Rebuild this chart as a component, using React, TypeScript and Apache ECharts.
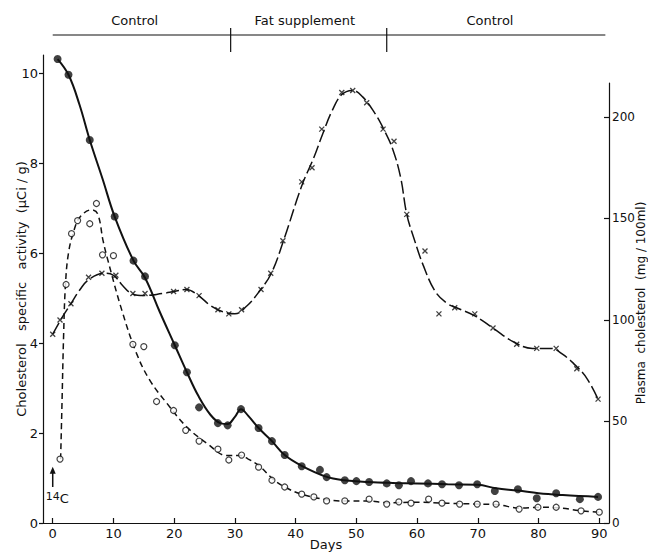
import React, { useEffect, useRef } from "react";
import * as echarts from "echarts";

// ---- data ----
const filledDays = [0.8, 2.6, 6.1, 10.2, 13.3, 15.2, 20.1, 22.1, 24.1, 27.2, 28.8, 31, 33.9, 36.1, 38.2, 41, 44, 45.1, 48.1, 50, 52.1, 55, 57, 59, 61.8, 64.1, 66.9, 69.9, 72.8, 76.6, 79.7, 82.9, 86.8, 89.8];
const filledActivity = [10.31, 9.96, 8.51, 6.81, 5.83, 5.48, 3.95, 3.35, 2.57, 2.22, 2.17, 2.53, 2.11, 1.82, 1.51, 1.26, 1.18, 1.02, 0.95, 0.93, 0.91, 0.88, 0.84, 0.93, 0.88, 0.86, 0.84, 0.86, 0.71, 0.75, 0.55, 0.66, 0.53, 0.58];

const openDays = [1.2, 2.2, 3.1, 4.1, 6.1, 7.2, 8.2, 10, 13.2, 15, 17.1, 19.9, 21.9, 24.1, 27.2, 29, 31.1, 33.9, 36.1, 38.2, 41, 43, 45.1, 48.1, 52.1, 55, 57, 59, 61.9, 64.1, 67, 69.9, 73, 76.8, 79.9, 82.9, 87, 90];
const openActivity = [1.42, 5.3, 6.43, 6.72, 6.65, 7.1, 5.96, 5.94, 3.97, 3.92, 2.7, 2.5, 2.06, 1.82, 1.64, 1.4, 1.51, 1.24, 0.95, 0.8, 0.64, 0.58, 0.49, 0.49, 0.53, 0.42, 0.47, 0.44, 0.53, 0.44, 0.42, 0.42, 0.42, 0.31, 0.35, 0.35, 0.27, 0.24];

const plasmaDays = [0, 1.2, 3, 5.9, 8.1, 10.4, 13.2, 15.2, 19.9, 22.1, 24.1, 27.2, 29, 31.1, 34.3, 35.9, 37.9, 41, 42.7, 44.3, 47.6, 49.4, 51.7, 54.4, 56.2, 58.3, 61.3, 63.6, 66.2, 69.5, 72.5, 76.4, 79.7, 82.9, 86.3, 89.8];
const plasmaChol = [93, 100, 108, 121, 123, 122, 113, 113, 114, 115, 112, 105, 103, 105, 115, 123, 139, 168, 175, 194, 212, 213, 207, 194, 188, 152, 134, 103, 106, 103, 96, 88, 86, 86, 76, 61];

// hand-drawn fitted curves (day, value)
const solidCurve = [[0.8, 10.31], [2.6, 9.96], [4.4, 9.3], [6.1, 8.51], [8.2, 7.65], [10.2, 6.81], [13.3, 5.83], [15.2, 5.45], [17.6, 4.7], [20.1, 3.95], [22.1, 3.35], [24, 2.82], [26, 2.4], [27.6, 2.22], [28.8, 2.2], [30, 2.36], [31, 2.53], [32.2, 2.38], [33.9, 2.11], [36.1, 1.82], [38.2, 1.51], [41, 1.27], [45, 1.03], [48, 0.95], [52, 0.91], [56, 0.89], [60, 0.88], [65, 0.86], [70, 0.85], [73, 0.77], [76.6, 0.72], [80, 0.66], [84, 0.62], [89.8, 0.58]];
const dashedCurve = [[1.3, 1.42], [1.5, 2.5], [1.8, 4.2], [2.1, 5.3], [2.6, 6.0], [3.5, 6.5], [4.5, 6.8], [6.4, 6.96], [7.4, 6.87], [8.3, 6.27], [9.1, 5.83], [11.4, 4.72], [13.8, 3.77], [16, 3.17], [18.8, 2.66], [22.1, 2.13], [25.4, 1.77], [28.7, 1.5], [30.8, 1.5], [32.2, 1.42], [34.1, 1.26], [36.3, 0.97], [38.2, 0.8], [41, 0.64], [45, 0.52], [48, 0.49], [52, 0.49], [55, 0.45], [60, 0.46], [65, 0.44], [70, 0.42], [73, 0.41], [77, 0.33], [80, 0.35], [83, 0.34], [87, 0.27], [90, 0.24]];
const plasmaCurve = [[0, 93], [1.5, 101], [3, 108], [4.5, 115], [6, 120], [8.5, 123], [10, 122], [11.5, 117], [13, 113], [15, 112], [18, 113], [20, 114], [22, 115], [24, 112], [26, 107], [28, 104], [30, 103], [32, 107], [34, 114], [36, 123], [38, 139], [41, 166], [43, 180], [44.5, 192], [46, 203], [47.6, 211], [49.4, 213], [51, 210], [53, 202], [54.5, 194], [56, 184], [57.3, 170], [58.3, 152], [59.5, 140], [61, 127], [63, 114], [65, 108], [66.5, 106], [69.5, 102], [72.5, 96], [76, 89], [79, 86], [82, 86], [84, 83], [86.3, 77], [88, 71], [89.8, 61]];

const dayTicks = [0, 10, 20, 30, 40, 50, 60, 70, 80, 90];
const activityTicks = [0, 2, 4, 6, 8, 10];
const plasmaTicks = [0, 50, 100, 150, 200];

const periodBounds = [29.3, 55];
const periodLabels = ["Control", "Fat supplement", "Control"];
const periodLabelDays = [13.5, 41.5, 72];

const INK = "#111";
const FONT = "DejaVu Sans";

export default function App() {
  const ref = useRef<HTMLDivElement>(null);
  useEffect(() => {
    if (!ref.current) return;
    const chart = echarts.init(ref.current, null, { renderer: "svg" });
    const X_MIN = -1.6;
    const X_MAX = 91.6;
    const axisText = { color: INK, fontFamily: FONT, fontSize: 13 };
    const nameText = { color: INK, fontFamily: FONT, fontSize: 13 };
    const cross = "path://M0 0L10 10M10 0L0 10";
    chart.setOption({
      animation: false,
      backgroundColor: "#fff",
      grid: [
        { left: 43, right: 39, top: 55, bottom: 29, outerBoundsMode: "none", containLabel: false },
        { left: 43, right: 39, top: 83, bottom: 29, outerBoundsMode: "none", containLabel: false },
      ],
      xAxis: [
        {
          gridIndex: 0,
          type: "value",
          min: X_MIN,
          max: X_MAX,
          axisLine: { show: true, onZero: false, lineStyle: { color: INK, width: 1.2 } },
          axisTick: { show: true, inside: true, length: 5, customValues: dayTicks, lineStyle: { color: INK, width: 1.2 } },
          axisLabel: { ...axisText, inside: false, margin: 4, customValues: dayTicks },
          splitLine: { show: false },
          name: "Days",
          nameLocation: "middle",
          nameGap: 15,
          nameMoveOverlap: false,
          nameTextStyle: { ...nameText },
        },
        { gridIndex: 1, type: "value", min: X_MIN, max: X_MAX, show: false, axisLine: { onZero: false } },
      ],
      yAxis: [
        {
          gridIndex: 0,
          type: "value",
          position: "left",
          min: 0,
          max: 10.4,
          axisLine: { show: true, onZero: false, lineStyle: { color: INK, width: 1.2 } },
          axisTick: { show: true, inside: false, length: 4, customValues: activityTicks, lineStyle: { color: INK, width: 1.2 } },
          axisLabel: { ...axisText, inside: false, margin: 5, customValues: activityTicks },
          splitLine: { show: false },
          name: "Cholesterol   specific   activity  (\u03BCCi / g)",
          nameLocation: "middle",
          nameRotate: 90,
          nameGap: 15,
          nameMoveOverlap: false,
          nameTextStyle: { ...nameText },
        },
        {
          gridIndex: 1,
          type: "value",
          position: "right",
          min: 0,
          max: 216.7,
          axisLine: { show: true, onZero: false, lineStyle: { color: INK, width: 1.2 } },
          axisTick: { show: true, inside: true, length: 5, customValues: plasmaTicks, lineStyle: { color: INK, width: 1.2 } },
          axisLabel: { ...axisText, fontSize: 12, inside: false, margin: 3, customValues: plasmaTicks },
          splitLine: { show: false },
          name: "Plasma  cholesterol  (mg / 100ml)",
          nameLocation: "middle",
          nameRotate: 90,
          nameGap: 26,
          nameMoveOverlap: false,
          nameTextStyle: { ...nameText, fontSize: 12 },
        },
      ],
      series: [
        {
          type: "line",
          xAxisIndex: 0,
          yAxisIndex: 0,
          data: solidCurve,
          smooth: 0.4,
          symbol: "none",
          lineStyle: { color: INK, width: 2 },
          z: 2,
        },
        {
          type: "scatter",
          xAxisIndex: 0,
          yAxisIndex: 0,
          data: filledDays.map((d, i) => [d, filledActivity[i]]),
          symbol: "circle",
          symbolSize: 8,
          itemStyle: { color: INK },
          z: 5,
        },
        {
          type: "line",
          xAxisIndex: 0,
          yAxisIndex: 0,
          data: dashedCurve,
          smooth: 0.4,
          symbol: "none",
          lineStyle: { color: INK, width: 1.5, type: [6, 4] },
          z: 2,
        },
        {
          type: "scatter",
          xAxisIndex: 0,
          yAxisIndex: 0,
          data: openDays.map((d, i) => [d, openActivity[i]]),
          symbol: "circle",
          symbolSize: 6,
          itemStyle: { color: "#fff", borderColor: INK, borderWidth: 1.2 },
          z: 5,
        },
        {
          type: "line",
          xAxisIndex: 1,
          yAxisIndex: 1,
          data: plasmaCurve,
          smooth: 0.4,
          symbol: "none",
          lineStyle: { color: INK, width: 1.5, type: [13, 4] },
          z: 2,
        },
        {
          type: "scatter",
          xAxisIndex: 1,
          yAxisIndex: 1,
          data: plasmaDays.map((d, i) => [d, plasmaChol[i]]),
          symbol: cross,
          symbolSize: 5,
          itemStyle: { color: "rgba(0,0,0,0)", borderColor: INK, borderWidth: 1.3 },
          z: 5,
        },
      ],
    });

    // header and annotation positioned through the x scale
    const px = (d: number) => chart.convertToPixel({ xAxisIndex: 0 }, d) as number;
    const HEADER_Y = 35;
    const graphic: any[] = [
      { type: "line", shape: { x1: px(0), y1: HEADER_Y, x2: px(91), y2: HEADER_Y }, style: { stroke: INK, lineWidth: 1.2 } },
      ...periodBounds.map((d) => ({
        type: "line",
        shape: { x1: px(d), y1: 28, x2: px(d), y2: 52 },
        style: { stroke: INK, lineWidth: 1.2 },
      })),
      ...periodLabels.map((t, i) => ({
        type: "text",
        x: px(periodLabelDays[i]),
        y: 20,
        style: { text: t, fill: INK, font: `13px ${FONT}`, align: "center", verticalAlign: "middle" },
      })),
    ];
    const base = chart.convertToPixel({ gridIndex: 0 }, [0, 0.8]) as number[];
    const tip = chart.convertToPixel({ gridIndex: 0 }, [0, 1.25]) as number[];
    graphic.push(
      { type: "line", shape: { x1: base[0], y1: base[1], x2: tip[0], y2: tip[1] + 5 }, style: { stroke: INK, lineWidth: 1.5 } },
      { type: "polygon", shape: { points: [[tip[0], tip[1]], [tip[0] - 3, tip[1] + 7], [tip[0] + 3, tip[1] + 7]] }, style: { fill: INK } },
      {
        type: "text",
        x: base[0] - 7,
        y: base[1] + 4,
        style: {
          text: "{a|14}{b|C}",
          fill: INK,
          align: "left",
          verticalAlign: "top",
          rich: {
            a: { fontFamily: FONT, fontSize: 11, fill: INK, padding: [0, 0, 4, 0] },
            b: { fontFamily: FONT, fontSize: 13, fill: INK },
          },
        },
      }
    );
    chart.setOption({ graphic });

    return () => chart.dispose();
  }, []);
  return <div ref={ref} style={{ position: "absolute", left: 0, top: 0, width: 648, height: 552 }} />;
}
